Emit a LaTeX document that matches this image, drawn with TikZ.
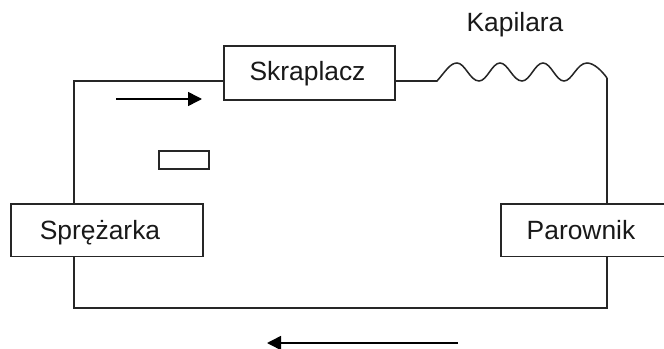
\documentclass[tikz,border=0pt]{standalone}
\usepackage{fontspec}
\setmainfont{Liberation Sans}
\usetikzlibrary{arrows.meta}
\tikzset{
  x=0.75pt,y=-0.75pt,
  wire/.style={line width=1.15pt,draw=black!85},
  blockbox/.style={draw=black!85,line width=1.35pt,fill=white,minimum height=39pt,inner sep=0pt,anchor=north west},
  lab/.style={font=\fontsize{19.8}{23}\selectfont,inner sep=0pt,text=black!90,anchor=base},
  flow/.style={line width=1.15pt,-{Triangle[length=10.5pt,width=10.5pt]}}
}
\begin{document}
\begin{tikzpicture}
\useasboundingbox (0,0) rectangle (664,349);
\coordinate (tl) at (74,81);
\coordinate (bl) at (74,308);
\coordinate (br) at (607,308);
\coordinate (tr) at (607,78);
\coordinate (ws) at (437,81);
\node[blockbox,minimum width=144pt] (sp) at (10,203.5) {};
\node[blockbox,minimum width=125pt] (pa) at (500,203.5) {};
\node[blockbox,minimum width=128.5pt,minimum height=40pt] (sk) at (223,45.5) {};
\node[lab] (tsp) at (100,239) {Sprężarka};
\node[lab] (tpa) at (581,239) {Parownik};
\node[lab] (tsk) at (307.5,81) {Skraplacz};
\node[lab] (tka) at (515,32) {Kapilara};
\node[draw=black!85,line width=1.35pt,minimum width=37.5pt,minimum height=13.5pt,inner sep=0pt,anchor=north west] (sm) at (158,150.5) {};
\draw[wire] (sp.north -| tl) -- (tl) -- (tl -| sk.west);
\draw[wire] (sp.south -| bl) -- (bl) -- (br) -- (pa.south -| br);
\draw[wire] (pa.north -| br) -- (tr);
\draw[wire] (sk.east |- ws) -- (ws)
  .. controls (445,72) and (450,63) .. (457,63)
  .. controls (465,63) and (470,81) .. (479,81)
  .. controls (487,81) and (492,63) .. (500,63)
  .. controls (508,63) and (513,81) .. (522,81)
  .. controls (530,81) and (535,63) .. (543,63)
  .. controls (551,63) and (556,81) .. (564,81)
  .. controls (572,81) and (577,63) .. (587,63)
  .. controls (594,63) and (602,71) .. (tr);
\coordinate (a1s) at (116,99);
\coordinate (a1e) at (202,99);
\coordinate (a2s) at (458,343);
\coordinate (a2e) at (267,343);
\draw[flow] (a1s) -- (a1e);
\draw[flow] (a2s) -- (a2e);
\end{tikzpicture}
\end{document}
